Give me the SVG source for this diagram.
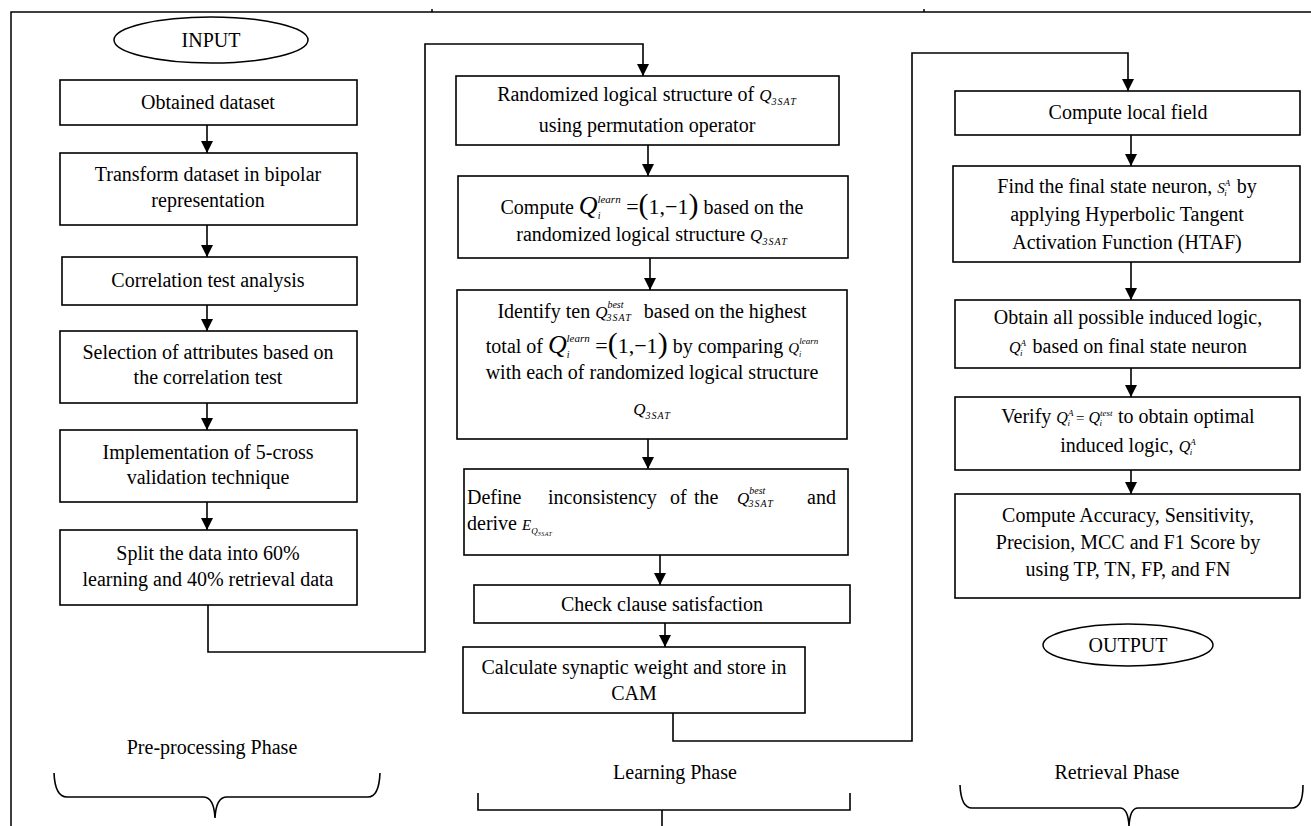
<svg xmlns="http://www.w3.org/2000/svg" width="1311" height="826" viewBox="0 0 1311 826">
<style>
.box{fill:#fff;stroke:#000;stroke-width:1.6}
.t{font-family:"Liberation Serif","Times New Roman",serif;font-size:20px;fill:#000}
.c{text-anchor:middle}
.m{font-style:italic}
.conn{fill:none;stroke:#000;stroke-width:1.6}
.frame{fill:none;stroke:#000;stroke-width:1.5}
</style>
<defs>
<marker id="arr" markerUnits="userSpaceOnUse" markerWidth="12" markerHeight="12" viewBox="0 0 12 12" refX="12" refY="6" orient="auto">
<path d="M0,0 L12,6 L0,12 z" fill="#000"/>
</marker>
</defs>
<rect width="1311" height="826" fill="#fff"/>
<g id="frame">
<path class="frame" d="M11,826 L11,12 L1311,12"/>
<path class="frame" d="M432,9 L432,12 M924,9 L924,12"/>
</g>

<g id="connectors">
<path class="conn" d="M207,125 L207,153" marker-end="url(#arr)"/>
<path class="conn" d="M207,225 L207,257" marker-end="url(#arr)"/>
<path class="conn" d="M207,305 L207,331" marker-end="url(#arr)"/>
<path class="conn" d="M207,403 L207,430" marker-end="url(#arr)"/>
<path class="conn" d="M207,502 L207,530" marker-end="url(#arr)"/>
<path class="conn" d="M208,605 L208,652 L425,652 L425,44 L643,44 L643,76" marker-end="url(#arr)"/>
<path class="conn" d="M648,145 L648,176" marker-end="url(#arr)"/>
<path class="conn" d="M650,258 L650,290" marker-end="url(#arr)"/>
<path class="conn" d="M648,439 L648,469" marker-end="url(#arr)"/>
<path class="conn" d="M660,555 L660,585" marker-end="url(#arr)"/>
<path class="conn" d="M665,623 L665,647" marker-end="url(#arr)"/>
<path class="conn" d="M673,713 L673,741 L912,741 L912,53 L1128,53 L1128,91" marker-end="url(#arr)"/>
<path class="conn" d="M1131,135 L1131,166" marker-end="url(#arr)"/>
<path class="conn" d="M1131,262 L1131,300" marker-end="url(#arr)"/>
<path class="conn" d="M1131,368 L1131,397" marker-end="url(#arr)"/>
<path class="conn" d="M1131,470 L1131,494" marker-end="url(#arr)"/>
</g>

<g id="input">
<ellipse cx="211" cy="40" rx="97" ry="23" fill="#fff" stroke="#000" stroke-width="1.5"/>
<text class="t c" x="211" y="47">INPUT</text>
</g>

<g id="obtained">
<rect class="box" x="60" y="80" width="297" height="45"/>
<text class="t c" x="208" y="109">Obtained dataset</text>
</g>
<g id="transform">
<rect class="box" x="60" y="153" width="297" height="72"/>
<text class="t c" x="208" y="181">Transform dataset in bipolar</text>
<text class="t c" x="208" y="207">representation</text>
</g>
<g id="correlation">
<rect class="box" x="62" y="257" width="295" height="48"/>
<text class="t c" x="208" y="287">Correlation test analysis</text>
</g>
<g id="selection">
<rect class="box" x="60" y="331" width="297" height="72"/>
<text class="t c" x="208" y="359">Selection of attributes based on</text>
<text class="t c" x="208" y="384">the correlation test</text>
</g>
<g id="implementation">
<rect class="box" x="60" y="430" width="297" height="72"/>
<text class="t c" x="208" y="459">Implementation of 5-cross</text>
<text class="t c" x="208" y="484">validation technique</text>
</g>
<g id="split">
<rect class="box" x="60" y="530" width="297" height="75"/>
<text class="t c" x="208" y="560">Split the data into 60%</text>
<text class="t c" x="208" y="586">learning and 40% retrieval data</text>
</g>

<g id="randomized">
<rect class="box" x="456" y="76" width="383" height="69"/>
<text class="t c" x="647" y="101">Randomized logical structure of <tspan class="m" font-size="17">Q</tspan><tspan class="m" font-size="10" dy="4" letter-spacing="1">3SAT</tspan></text>
<text class="t c" x="647" y="132">using permutation operator</text>
</g>
<g id="compute-q">
<rect class="box" x="458" y="176" width="390" height="82"/>
<text class="t c" x="652" y="214">Compute <tspan class="m" font-size="26">Q</tspan><tspan class="m" font-size="10" dy="5">i</tspan><tspan class="m" font-size="11" dx="-3" dy="-16">learn</tspan><tspan font-size="22" dy="11"> =</tspan><tspan font-size="30">(</tspan><tspan font-size="22">1,−1</tspan><tspan font-size="30">)</tspan><tspan dx="5">based on the</tspan></text>
<text class="t c" x="652" y="241">randomized logical structure <tspan class="m" font-size="17">Q</tspan><tspan class="m" font-size="10" dy="4" letter-spacing="1">3SAT</tspan></text>
</g>
<g id="identify">
<rect class="box" x="457" y="290" width="390" height="149"/>
<text class="t c" x="652" y="318">Identify ten <tspan class="m" font-size="17">Q</tspan><tspan class="m" font-size="10" dy="-10">best</tspan><tspan class="m" font-size="10" dx="-17" dy="13" letter-spacing="1">3SAT</tspan><tspan dx="12" dy="-3">based on the highest</tspan></text>
<text class="t c" x="652" y="353">total of <tspan class="m" font-size="26">Q</tspan><tspan class="m" font-size="10" dy="5">i</tspan><tspan class="m" font-size="11" dx="-3" dy="-16">learn</tspan><tspan font-size="22" dy="11"> =</tspan><tspan font-size="30">(</tspan><tspan font-size="22">1,−1</tspan><tspan font-size="30">)</tspan><tspan dx="5">by comparing </tspan><tspan class="m" font-size="15">Q</tspan><tspan class="m" font-size="8" dy="4">i</tspan><tspan class="m" font-size="9" dx="-2" dy="-13">learn</tspan></text>
<text class="t c" x="652" y="379">with each of randomized logical structure</text>
<text class="t c" x="652" y="415"><tspan class="m" font-size="17">Q</tspan><tspan class="m" font-size="10" dy="4" letter-spacing="1">3SAT</tspan></text>
</g>
<g id="define">
<rect class="box" x="464" y="469" width="384" height="86"/>
<text class="t" x="467" y="504">Define</text>
<text class="t" x="548" y="504">inconsistency</text>
<text class="t" x="670" y="504">of</text>
<text class="t" x="694" y="504">the</text>
<text class="t" x="737" y="504"><tspan class="m" font-size="17">Q</tspan><tspan class="m" font-size="10" dy="-10">best</tspan><tspan class="m" font-size="10" dx="-17" dy="13" letter-spacing="1">3SAT</tspan></text>
<text class="t" x="836" y="504" text-anchor="end">and</text>
<text class="t" x="467" y="530">derive <tspan class="m" font-size="15">E</tspan><tspan class="m" font-size="9" dy="4">Q</tspan><tspan class="m" font-size="6" dy="2" letter-spacing="0.5">3SAT</tspan></text>
</g>
<g id="check">
<rect class="box" x="474" y="585" width="376" height="38"/>
<text class="t c" x="662" y="611">Check clause satisfaction</text>
</g>
<g id="calculate">
<rect class="box" x="463" y="647" width="342" height="66"/>
<text class="t c" x="634" y="674">Calculate synaptic weight and store in</text>
<text class="t c" x="634" y="700">CAM</text>
</g>

<g id="local-field">
<rect class="box" x="955" y="91" width="345" height="44"/>
<text class="t c" x="1128" y="119">Compute local field</text>
</g>
<g id="final-state">
<rect class="box" x="953" y="166" width="347" height="96"/>
<text class="t c" x="1127" y="193">Find the final state neuron, <tspan class="m" font-size="15">S</tspan><tspan class="m" font-size="9" dy="-7">A</tspan><tspan class="m" font-size="9" dx="-6" dy="10">i</tspan><tspan dx="10" dy="-3">by</tspan></text>
<text class="t c" x="1127" y="221">applying Hyperbolic Tangent</text>
<text class="t c" x="1127" y="249">Activation Function (HTAF)</text>
</g>
<g id="induced">
<rect class="box" x="955" y="300" width="345" height="68"/>
<text class="t c" x="1128" y="324">Obtain all possible induced logic,</text>
<text class="t c" x="1128" y="353"><tspan class="m" font-size="16">Q</tspan><tspan class="m" font-size="9" dy="-7">A</tspan><tspan class="m" font-size="9" dx="-6" dy="10">i</tspan><tspan dx="10" dy="-3">based on final state neuron</tspan></text>
</g>
<g id="verify">
<rect class="box" x="955" y="397" width="345" height="73"/>
<text class="t c" x="1128" y="423">Verify <tspan class="m" font-size="16">Q</tspan><tspan class="m" font-size="9" dy="-7">A</tspan><tspan class="m" font-size="9" dx="-6" dy="10">i</tspan><tspan font-size="15" dx="6" dy="-3">=</tspan><tspan class="m" font-size="16" dx="4">Q</tspan><tspan class="m" font-size="9" dy="-7">test</tspan><tspan class="m" font-size="9" dx="-13" dy="10">i</tspan><tspan dx="16" dy="-3">to obtain optimal</tspan></text>
<text class="t c" x="1128" y="452">induced logic, <tspan class="m" font-size="16">Q</tspan><tspan class="m" font-size="9" dy="-7">A</tspan><tspan class="m" font-size="9" dx="-6" dy="10">i</tspan></text>
</g>
<g id="metrics">
<rect class="box" x="955" y="494" width="345" height="104"/>
<text class="t c" x="1128" y="522">Compute Accuracy, Sensitivity,</text>
<text class="t c" x="1128" y="549">Precision, MCC and F1 Score by</text>
<text class="t c" x="1128" y="576">using TP, TN, FP, and FN</text>
</g>
<g id="output">
<ellipse cx="1128" cy="645" rx="85" ry="21" fill="#fff" stroke="#000" stroke-width="1.5"/>
<text class="t c" x="1128" y="652">OUTPUT</text>
</g>

<g id="phases">
<text class="t c" x="212" y="754">Pre-processing Phase</text>
<path class="conn" d="M54,773 Q55,797 67,797 L203,797 Q214,797 215,818 Q216,797 227,797 L368,797 Q379,797 380,773"/>
<text class="t c" x="675" y="779">Learning Phase</text>
<path class="conn" d="M478,793 L478,810 L850,810 L850,793 M662,810 L662,826"/>
<text class="t c" x="1117" y="779">Retrieval Phase</text>
<path class="conn" d="M960,785 Q961,808 972,808 L1120,808 Q1128,808 1129,826 M1129,826 Q1130,808 1138,808 L1292,808 Q1303,808 1303,785"/>
</g>
</svg>
